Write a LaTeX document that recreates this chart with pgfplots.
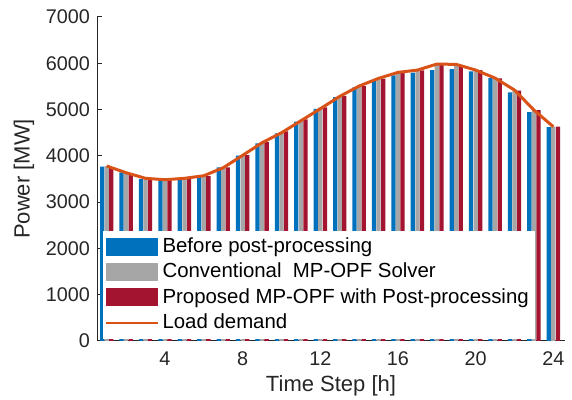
\documentclass[border=0pt]{standalone}
\usepackage{fontspec}
\setmainfont{Liberation Sans}
\usepackage{pgfplots}
\pgfplotsset{compat=1.18}
\usepackage{pgfplotstable}

\definecolor{mblue}{HTML}{0072BD}
\definecolor{mgray}{HTML}{A6A6A6}
\definecolor{mred}{HTML}{A2142F}
\definecolor{morange}{HTML}{D95319}
\definecolor{axgray}{HTML}{262626}

% hour, before post-processing, conventional, proposed, load demand
\pgfplotstableread{
h  before conv prop load
1  3765 3780 3755 3780
2  3642 3635 3610 3635
3  3499 3520 3499 3514
4  3470 3484 3477 3484
5  3499 3514 3499 3514
6  3549 3565 3563 3570
7  3751 3745 3751 3743
8  4003 4012 4017 4010
9  4268 4290 4298 4283
10 4484 4515 4527 4499
11 4737 4775 4788 4758
12 5017 5040 5046 5017
13 5270 5292 5297 5285
14 5479 5505 5508 5508
15 5637 5668 5666 5674
16 5739 5785 5795 5803
17 5796 5850 5846 5853
18 5853 5965 5961 5983
19 5875 5970 5961 5976
20 5825 5853 5853 5853
21 5680 5678 5673 5680
22 5371 5410 5407 5421
23 4946 4989 4989 4989
24 4622 4629 4629 4629
}\datatable

\begin{document}
\begin{tikzpicture}
\begin{axis}[
  width=234pt, height=162pt,
  scale only axis,
  xmin=0.5, xmax=24.6,
  ymin=0, ymax=7000,
  xtick={4,8,...,24},
  ytick={0,1000,...,7000},
  axis x line=bottom,
  axis y line=left,
  axis line style={-, axgray, line width=0.5pt},
  tick style={axgray, line width=0.5pt},
  major tick length=2.5pt,
  tick align=inside,
  ticklabel style={font=\fontsize{9.9}{11}\selectfont, text=axgray},
  xticklabel style={yshift=-1.8pt},
  /pgf/number format/assume math mode=true,
  /pgf/number format/1000 sep={},
  xlabel={Time Step [h]},
  ylabel={Power [MW]},
  label style={font=\fontsize{11}{13}\selectfont, text=axgray},
  ylabel style={yshift=-1pt},
  xlabel style={yshift=2pt},
  legend cell align=left,
  legend style={
    at={(rel axis cs:0.011,0.006)}, anchor=south west,
    draw=none, fill=white,
    font=\fontsize{10.2}{12}\selectfont,
    row sep=-0.2pt, inner xsep=1pt, inner ysep=1.5pt,
  },
  legend image code/.code={
    \fill[#1] (0pt,-4.5pt) rectangle (26pt,4.5pt);
  },
]
\addplot[ybar, bar width=0.22, bar shift=-0.235, fill=mblue, draw=none]
  table[x=h, y=before] {\datatable};
\addlegendentry{Before post-processing}
\addplot[ybar, bar width=0.22, bar shift=0, fill=mgray, draw=none]
  table[x=h, y=conv] {\datatable};
\addlegendentry{Conventional\ \ MP-OPF Solver}
\addplot[ybar, bar width=0.22, bar shift=0.235, fill=mred, draw=none]
  table[x=h, y=prop] {\datatable};
\addlegendentry{Proposed MP-OPF with Post-processing}
\addplot[morange, line width=1.5pt, mark=none,
  legend image code/.code={\draw[morange, line width=1pt] (0pt,0pt) -- (26pt,0pt);}]
  table[x=h, y=load] {\datatable};
\addlegendentry{Load demand}
\end{axis}
\pgfresetboundingbox
\path (current axis.south west) ++(-48.5pt,-29.5pt)
  rectangle ([shift={(3.5pt,8.5pt)}]current axis.north east);
\end{tikzpicture}
\end{document}
